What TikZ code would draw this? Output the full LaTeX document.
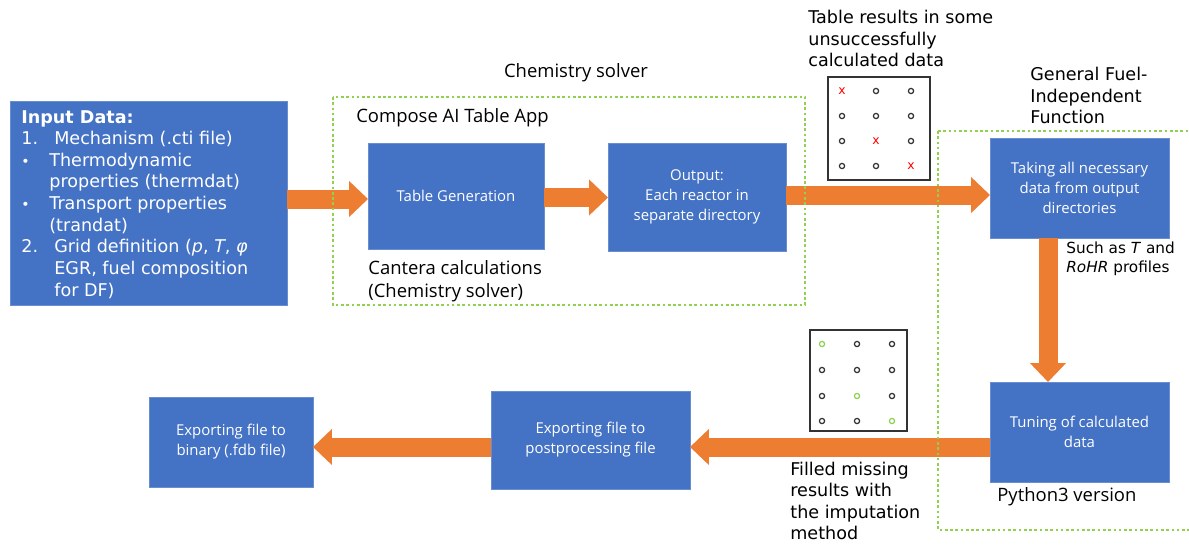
\documentclass[tikz,border=0pt]{standalone}
\usepackage{fontspec}
\setmainfont{DejaVu Sans}
\newfontfamily\segoe{Open Sans}
\usepackage{tikz}
\usetikzlibrary{positioning,arrows.meta}

\definecolor{boxblue}{HTML}{4472C4}
\definecolor{flow-orange}{HTML}{ED7D31}
\definecolor{dash-green}{HTML}{92D050}
\definecolor{mark-red}{HTML}{FF0000}

\begin{document}
\begin{tikzpicture}
[
x=0.02cm, y=-0.02cm,
box-a/.style={rectangle, fill=boxblue, draw=boxblue!80!white, inner sep=0pt, outer sep=0pt, text=white, align=center, font=\segoe\fontsize{8.5}{11.4}\selectfont},
text-a/.style={black, align=left, inner sep=0pt, font=\fontsize{10}{12.2}\selectfont},
text-b/.style={black, align=left, inner sep=0pt, font=\segoe\fontsize{10.5}{13}\selectfont},
flow/.style={draw=flow-orange, line width=0.38cm, -{Triangle[width=0.7cm,length=0.38cm]}},
group-a/.style={draw=dash-green, line width=0.6pt, dash pattern=on 1.5pt off 1.5pt},
table-a/.style={draw=black!80, line width=1pt, inner sep=0pt}
]
\useasboundingbox (0,0) rectangle (1189,545);

% main boxes
\node (box-in)   [box-a, minimum width=5.54cm, minimum height=4.08cm] at (148.5,203) {};
\node (box-gen)  [box-a, minimum width=3.52cm, minimum height=2.12cm] at (456,196) {Table Generation};
\node (box-out)  [box-a, minimum width=3.56cm, minimum height=2.16cm] at (697,197) {Output:\\Each reactor in\\separate directory};
\node (box-take) [box-a, minimum width=3.58cm, minimum height=2.00cm] at (1079.5,188) {Taking all necessary\\data from output\\directories};
\node (box-tune) [box-a, minimum width=3.58cm, minimum height=2.00cm] at (1079.5,432) {Tuning of calculated\\data};
\node (box-post) [box-a, minimum width=3.98cm, minimum height=1.96cm] at (590.5,440) {Exporting file to\\postprocessing file};
\node (box-bin)  [box-a, minimum width=3.28cm, minimum height=1.80cm] at (231,442) {Exporting file to\\binary (.fdb file)};

% input data text
\node (in-text) [text-a, font=\fontsize{10}{12.3}\selectfont, text=white, anchor=north west] at (21,110)
{\textbf{Input Data:}\\
\makebox[0.66cm][l]{1.}Mechanism (.cti file)\\
\makebox[0.56cm][l]{\footnotesize\textbullet}Thermodynamic\\
\hspace*{0.56cm}properties (thermdat)\\
\makebox[0.56cm][l]{\footnotesize\textbullet}Transport properties\\
\hspace*{0.56cm}(trandat)\\
\makebox[0.66cm][l]{2.}Grid definition (\textit{p}, \textit{T}, \textit{φ}\\
\hspace*{0.66cm}EGR, fuel composition\\
\hspace*{0.66cm}for DF)};

% labels
\node (lbl-chem)    [text-b] at (576,73) {Chemistry solver};
\node (lbl-app)     [text-b, anchor=west] at (356,118) {Compose AI Table App};
\node (lbl-cantera) [text-b, below=2.2mm of box-gen.south west, anchor=north west] {Cantera calculations\\(Chemistry solver)};
\node (lbl-top)     [text-a, anchor=north west] at (808,10) {Table results in some\\unsuccessfully\\calculated data};
\node (lbl-gfi)     [text-a, anchor=north west] at (1030,67) {General Fuel-\\Independent\\Function};
\node (lbl-such)    [text-a, font=\fontsize{8.7}{10.4}\selectfont, anchor=north west] at (1066,242) {Such as \textit{T} and\\\textit{RoHR} profiles};
\node (lbl-py)      [text-b, anchor=west] at (997,497) {Python3 version};
\node (lbl-fill)    [text-a, font=\fontsize{10}{12.1}\selectfont, anchor=north west] at (790,462) {Filled missing\\results with\\the imputation\\method};

% orange flows
\draw [flow] (box-in.east |- 0,199) -- (box-gen.west |- 0,199);
\draw [flow] (box-gen.east |- 0,197.5) -- (box-out.west |- 0,197.5);
\draw [flow] (box-out.east |- 0,195) -- (box-take.west |- 0,195);
\draw [flow] (1048,0 |- box-take.south) -- (1048,0 |- box-tune.north);
\draw [flow] (box-tune.west |- 0,447) -- (box-post.east |- 0,447);
\draw [flow] (box-post.west |- 0,447) -- (box-bin.east |- 0,447);

% tables of results
\node (tbl-top) [table-a, minimum width=2.04cm, minimum height=2.06cm] at (879,128.5) {};
\node (tbl-bot) [table-a, minimum width=1.94cm, minimum height=2.02cm] at (858.5,380.5) {};
\foreach \c/\cx in {0/842,1/876,2/911}
  \foreach \r/\ry in {0/91,1/116,2/141,3/166}
  {
    \ifnum\numexpr\c*10+\r\relax=0 \node [text=mark-red, inner sep=0pt, font=\fontsize{7}{7}\selectfont] at (\cx,\ry) {x};
    \else\ifnum\numexpr\c*10+\r\relax=12 \node [text=mark-red, inner sep=0pt, font=\fontsize{7}{7}\selectfont] at (\cx,\ry) {x};
    \else\ifnum\numexpr\c*10+\r\relax=23 \node [text=mark-red, inner sep=0pt, font=\fontsize{7}{7}\selectfont] at (\cx,\ry) {x};
    \else \draw [black!80, line width=0.7pt] (\cx,\ry) circle (2.6);
    \fi\fi\fi
  }
\foreach \c/\cx in {0/822,1/857,2/892}
  \foreach \r/\ry in {0/344,1/370,2/396,3/421}
  {
    \ifnum\numexpr\c*10+\r\relax=0 \def\mc{dash-green}
    \else\ifnum\numexpr\c*10+\r\relax=12 \def\mc{dash-green}
    \else\ifnum\numexpr\c*10+\r\relax=23 \def\mc{dash-green}
    \else \def\mc{black!80}
    \fi\fi\fi
    \draw [\mc, line width=0.7pt] (\cx,\ry) circle (2.6);
  }

% dashed groups
\draw [group-a] (333,97) rectangle (805,305);
\draw [group-a] (938,131) -- (1189,131);
\draw [group-a] (938,131) -- (938,530) -- (1189,530);
\end{tikzpicture}
\end{document}
